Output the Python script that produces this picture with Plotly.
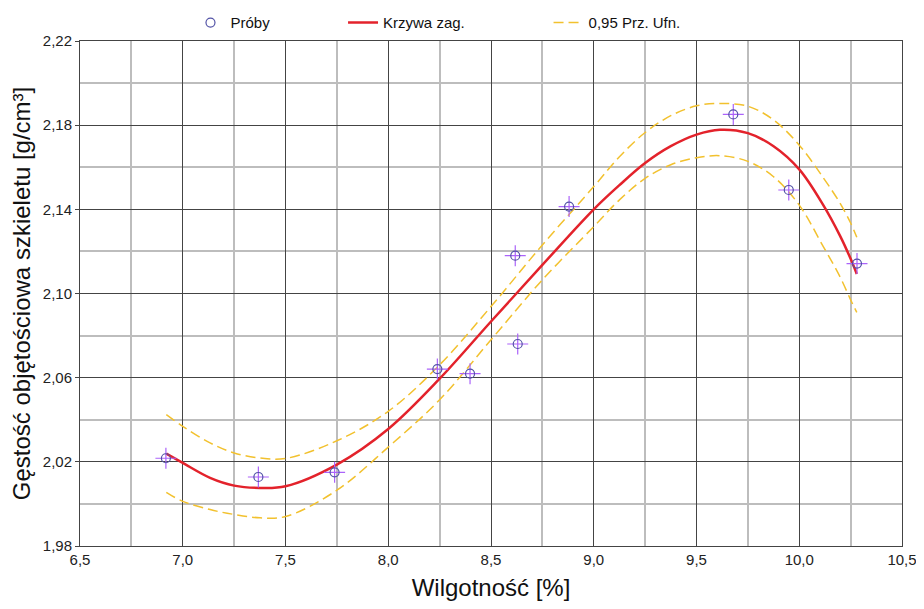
import plotly.graph_objects as go

# Samples (Próby)
sample_x = [6.918, 7.368, 7.739, 8.239, 8.398, 8.618, 8.630, 8.880, 9.679, 9.949, 10.281]
sample_y = [2.0217, 2.0128, 2.0150, 2.0641, 2.0619, 2.1180, 2.0760, 2.1413, 2.1851, 2.1492, 2.1142]

# Fitted curve (Krzywa zag.)
curve_x = [6.92, 7.0, 7.133, 7.25, 7.376, 7.5, 7.75, 8.0, 8.25, 8.5, 8.75, 9.0, 9.125, 9.25,
           9.375, 9.5, 9.614, 9.75, 9.875, 10.0, 10.117, 10.198, 10.25, 10.28]
curve_y = [2.0239, 2.0195, 2.0124, 2.0087, 2.0076, 2.0084, 2.0187, 2.0356, 2.0595, 2.0867, 2.1136,
           2.1400, 2.1515, 2.1620, 2.1700, 2.1755, 2.1778, 2.1762, 2.1700, 2.1590, 2.1420, 2.1275,
           2.1165, 2.1093]

# Confidence band 0.95 (Prz. Ufn.)
upper_y = [2.0424, 2.0369, 2.0290, 2.0242, 2.0218, 2.0216, 2.0300, 2.0440, 2.0661, 2.0938, 2.1231,
           2.1508, 2.1650, 2.1765, 2.1845, 2.1892, 2.1903, 2.1890, 2.1825, 2.1705, 2.1550, 2.1430,
           2.1335, 2.1267]
lower_y = [2.0055, 2.0012, 1.9973, 1.9950, 1.9934, 1.9940, 2.0065, 2.0270, 2.0495, 2.0780, 2.1065,
           2.1318, 2.1445, 2.1547, 2.1612, 2.1645, 2.1655, 2.1628, 2.1555, 2.1420, 2.1223, 2.1080,
           2.0970, 2.0910]

FONT = "Liberation Sans, Arial, sans-serif"
BLUE = "#5252a6"
RED = "#e3222b"
YELLOW = "#f2c12e"

fig = go.Figure()

fig.add_trace(go.Scatter(x=curve_x, y=upper_y, mode="lines", name="0,95 Prz. Ufn.",
                         line=dict(color=YELLOW, width=1.5, dash="10px,5px", shape="spline"),
                         legend="legend3"))
fig.add_trace(go.Scatter(x=curve_x, y=lower_y, mode="lines", name="0,95 Prz. Ufn.",
                         line=dict(color=YELLOW, width=1.5, dash="10px,5px", shape="spline"),
                         showlegend=False))
fig.add_trace(go.Scatter(x=curve_x, y=curve_y, mode="lines", name="Krzywa zag.",
                         line=dict(color=RED, width=2.5, shape="spline"),
                         legend="legend2"))
fig.add_trace(go.Scatter(x=sample_x, y=sample_y, mode="markers", name="Próby",
                         marker=dict(symbol="cross-thin-open", size=15,
                                     line=dict(color=BLUE, width=1.2)),
                         showlegend=False, hoverinfo="skip"))
fig.add_trace(go.Scatter(x=sample_x, y=sample_y, mode="markers", name="Próby",
                         marker=dict(symbol="circle-open", size=9, color=BLUE,
                                     line=dict(color=BLUE, width=1.2)),
                         legend="legend"))

legend_common = dict(orientation="h", yanchor="middle", y=1.036, xanchor="left",
                     bgcolor="rgba(0,0,0,0)", font=dict(family=FONT, size=15, color="#111"))

# page body has an 8 px margin, so the figure is offset by 8 px in the window
fig.update_layout(
    width=916, height=593,
    margin=dict(l=72, r=22, t=33, b=55, autoexpand=False),
    paper_bgcolor="white", plot_bgcolor="white",
    separators=",.",
    font=dict(family=FONT, color="#111"),
    legend=dict(legend_common, x=0.1344),
    legend2=dict(legend_common, x=0.320),
    legend3=dict(legend_common, x=0.570),
    xaxis=dict(range=[6.5, 10.5], tick0=6.5, dtick=0.5, tickformat=".1f",
               showgrid=True, gridcolor="#444444", gridwidth=1,
               minor=dict(dtick=0.25, showgrid=True, gridcolor="#bdbdbd", gridwidth=1.5),
               showline=True, linecolor="#444444", linewidth=1, mirror=True,
               ticks="", zeroline=False,
               tickfont=dict(family=FONT, size=15, color="#222"),
               title=dict(text="Wilgotność [%]", font=dict(family=FONT, size=24, color="#111"),
                          standoff=19)),
    yaxis=dict(range=[1.98, 2.22], tick0=1.98, dtick=0.04, tickformat=".2f",
               showgrid=True, gridcolor="#444444", gridwidth=1,
               minor=dict(dtick=0.02, showgrid=True, gridcolor="#bdbdbd", gridwidth=1.5),
               showline=True, linecolor="#444444", linewidth=1, mirror=True,
               ticks="outside", ticklen=4, tickcolor="#444444",
               zeroline=False,
               tickfont=dict(family=FONT, size=15, color="#222"),
               title=dict(text="Gęstość objętościowa szkieletu [g/cm³]",
                          font=dict(family=FONT, size=24, color="#111"), standoff=9)),
)

fig.write_html("out.html")
